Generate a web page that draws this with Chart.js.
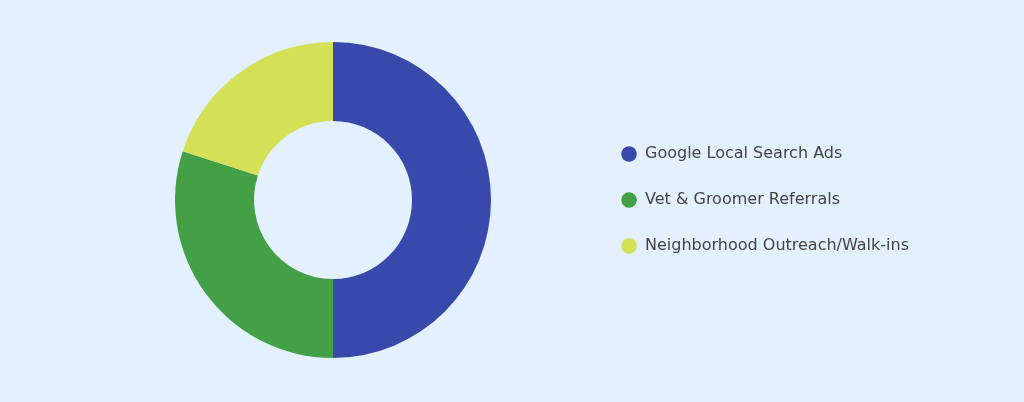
<!DOCTYPE html>
<html>
<head>
<meta charset="utf-8">
<script src="https://cdn.jsdelivr.net/npm/chart.js@4/dist/chart.umd.min.js"></script>
<style>
  html, body { margin: 0; padding: 0; background: #e3f0fd; }
  #wrap { width: 1024px; height: 402px; position: relative; }
</style>
</head>
<body>
<div id="wrap"><canvas id="c"></canvas></div>
<script>
  // lead sources share
  var labels = ["Google Local Search Ads", "Vet & Groomer Referrals", "Neighborhood Outreach/Walk-ins"];
  var shares = [50, 30, 20];
  var colors = ["#3949ab", "#43a047", "#d4e157"];

  new Chart(document.getElementById("c").getContext("2d"), {
    type: "doughnut",
    data: {
      labels: labels,
      datasets: [{ data: shares, backgroundColor: colors, borderWidth: 0, hoverOffset: 0 }]
    },
    options: {
      responsive: true,
      maintainAspectRatio: false,
      animation: false,
      cutout: "50%",
      layout: { padding: { top: 42, bottom: 44, left: 75, right: 105 } },
      plugins: {
        tooltip: { enabled: false },
        legend: {
          position: "right",
          labels: {
            usePointStyle: true,
            pointStyle: "circle",
            boxWidth: 16,
            boxHeight: 11,
            padding: 30,
            color: "#444",
            font: { family: "'DejaVu Sans', Verdana, sans-serif", size: 16 }
          }
        }
      }
    }
  });
</script>
</body>
</html>
